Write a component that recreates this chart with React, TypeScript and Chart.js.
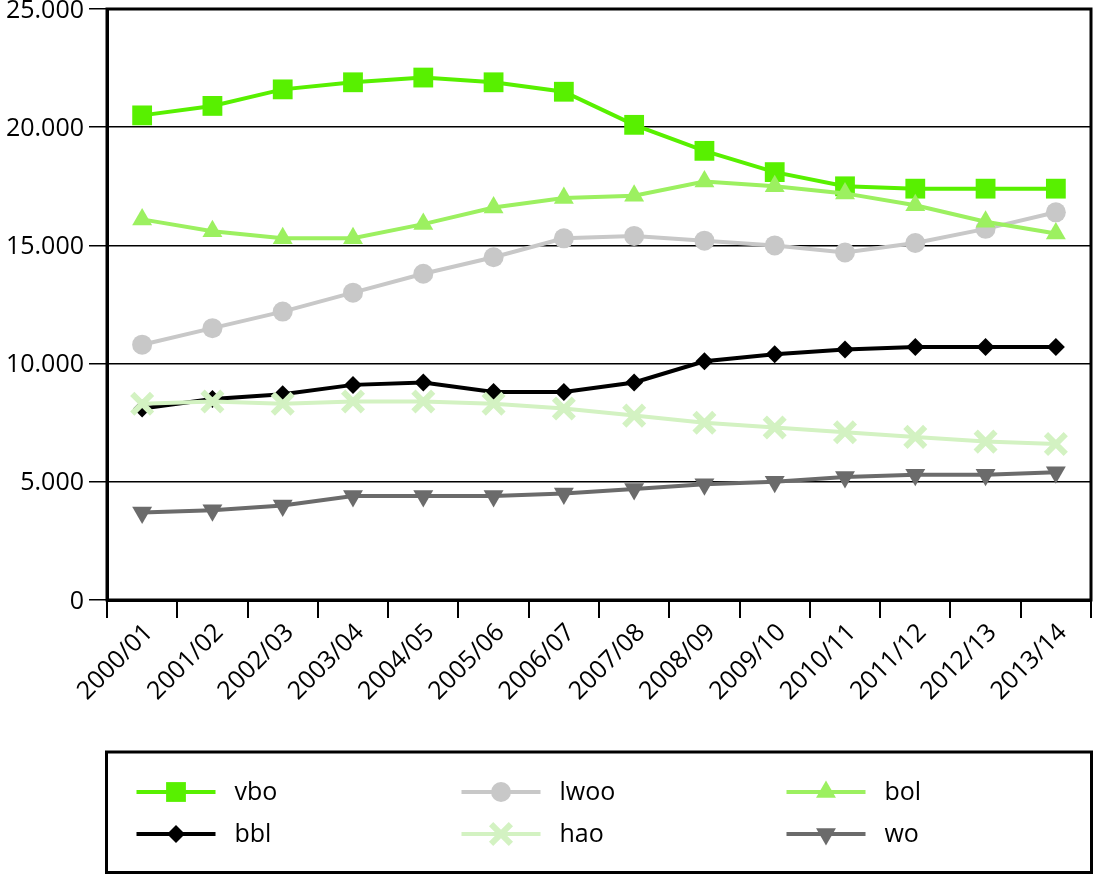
import { useEffect, useRef } from "react";
import { Chart, registerables } from "chart.js";
import { drawPoint } from "chart.js/helpers";

Chart.register(...registerables);

const categories = [
  "2000/01", "2001/02", "2002/03", "2003/04", "2004/05", "2005/06", "2006/07",
  "2007/08", "2008/09", "2009/10", "2010/11", "2011/12", "2012/13", "2013/14",
];

const vbo = [20500, 20900, 21600, 21900, 22100, 21900, 21500, 20100, 19000, 18100, 17500, 17400, 17400, 17400];
const lwoo = [10800, 11500, 12200, 13000, 13800, 14500, 15300, 15400, 15200, 15000, 14700, 15100, 15700, 16400];
const bol = [16100, 15600, 15300, 15300, 15900, 16600, 17000, 17100, 17700, 17500, 17200, 16700, 16000, 15500];
const bbl = [8100, 8500, 8700, 9100, 9200, 8800, 8800, 9200, 10100, 10400, 10600, 10700, 10700, 10700];
const hao = [8300, 8400, 8300, 8400, 8400, 8300, 8100, 7800, 7500, 7300, 7100, 6900, 6700, 6600];
const wo = [3700, 3800, 4000, 4400, 4400, 4400, 4500, 4700, 4900, 5000, 5200, 5300, 5300, 5400];

const yTicks = [0, 5000, 10000, 15000, 20000, 25000];
const yTickLabels = ["0", "5.000", "10.000", "15.000", "20.000", "25.000"];

const FONT = "'Open Sans', 'DejaVu Sans', sans-serif";

function series(label: string, data: number[], color: string, style: string, radius: number, order: number, extra: any = {}) {
  return {
    label,
    data,
    borderColor: color,
    backgroundColor: color,
    pointBackgroundColor: color,
    pointBorderColor: color,
    borderWidth: 4,
    pointStyle: style,
    pointRadius: radius,
    pointBorderWidth: 0,
    tension: 0,
    clip: false,
    order,
    ...extra,
  };
}

const noScalePadding = {
  id: "noScalePadding",
  beforeLayout(chart: any) {
    Object.values(chart.scales).forEach((s: any) => {
      s.getPadding = () => ({ left: 0, top: 0, right: 0, bottom: 0 });
    });
  },
};

const frameAndLegend = {
  id: "frameAndLegend",
  afterDraw(chart: any) {
    const { ctx, chartArea } = chart;
    ctx.save();
    ctx.strokeStyle = "#000";
    ctx.lineWidth = 3;
    ctx.strokeRect(chartArea.left, chartArea.top, chartArea.right - chartArea.left, chartArea.bottom - chartArea.top);

    const left = chartArea.left - 0.5;
    const right = chartArea.right + 0.5;
    const top = chartArea.bottom + 152;
    const bottom = chart.height - 2.5;
    ctx.strokeRect(left, top, right - left, bottom - top);

    chart.data.datasets.forEach((ds: any, i: number) => {
      const col = i % 3;
      const row = Math.floor(i / 3);
      const x0 = left + 30 + col * 325;
      const y = top + 40 + row * 42;
      ctx.strokeStyle = ds.borderColor;
      ctx.fillStyle = ds.borderColor;
      ctx.lineWidth = 4;
      ctx.beginPath();
      ctx.moveTo(x0, y);
      ctx.lineTo(x0 + 79, y);
      ctx.stroke();
      ctx.lineWidth = ds.pointBorderWidth;
      drawPoint(ctx, {
        pointStyle: ds.pointStyle,
        radius: ds.pointRadius,
        rotation: ds.pointRotation || 0,
        borderWidth: ds.pointBorderWidth,
      } as any, x0 + 39.5, y);
      ctx.fillStyle = "#000";
      ctx.font = `25px ${FONT}`;
      ctx.textAlign = "left";
      ctx.textBaseline = "middle";
      ctx.fillText(ds.label, x0 + 98, y + 1);
    });
    ctx.restore();
  },
};

export default function App() {
  const ref = useRef<HTMLCanvasElement>(null);

  useEffect(() => {
    if (!ref.current) return;
    const chart = new Chart(ref.current, {
      type: "line",
      data: {
        labels: categories,
        datasets: [
          series("vbo", vbo, "#58F000", "rect", 14, 2),
          series("lwoo", lwoo, "#C8C8C8", "circle", 10, 5),
          series("bol", bol, "#9CF060", "triangle", 11.5, 1),
          series("bbl", bbl, "#000000", "rectRot", 9, 4),
          series("hao", hao, "#D3F2C2", "crossRot", 14, 3, { pointBorderWidth: 6 }),
          series("wo", wo, "#6B6B6B", "triangle", 11.5, 6, { pointRotation: 180 }),
        ],
      },
      options: {
        responsive: false,
        animation: false,
        events: [],
        layout: { autoPadding: false, padding: { top: 9, right: 2, left: 0, bottom: 155 } },
        plugins: {
          legend: { display: false },
          tooltip: { enabled: false },
        },
        scales: {
          x: {
            offset: true,
            grid: {
              offset: true,
              drawOnChartArea: false,
              drawTicks: true,
              tickLength: 18,
              color: "#000",
              lineWidth: 2,
            },
            border: { color: "#000", width: 3 },
            ticks: {
              color: "#000",
              font: { family: FONT, size: 25 },
              maxRotation: 45,
              minRotation: 45,
              padding: 0,
              labelOffset: 7,
              autoSkip: false,
            },
            afterFit: (scale: any) => {
              scale.height = 120;
            },
          },
          y: {
            min: 0,
            max: 25000,
            afterBuildTicks: (scale: any) => {
              scale.ticks = yTicks.map((v) => ({ value: v }));
            },
            grid: {
              color: "#000",
              lineWidth: 1.5,
              tickLength: 18,
            },
            border: { color: "#000", width: 3 },
            ticks: {
              color: "#000",
              font: { family: FONT, size: 25 },
              padding: 5,
              labelOffset: 1.5,
              callback: (v: any) => {
                const i = yTicks.indexOf(Number(v));
                return i >= 0 ? yTickLabels[i] : "";
              },
            },
            afterFit: (scale: any) => {
              scale.width = 107;
            },
          },
        },
      },
      plugins: [noScalePadding, frameAndLegend],
    } as any);
    return () => chart.destroy();
  }, []);

  return (
    <div style={{ position: "absolute", left: 0, top: 0, width: 1093, height: 875, background: "#fff" }}>
      <canvas ref={ref} width={1093} height={875} style={{ display: "block" }} />
    </div>
  );
}
